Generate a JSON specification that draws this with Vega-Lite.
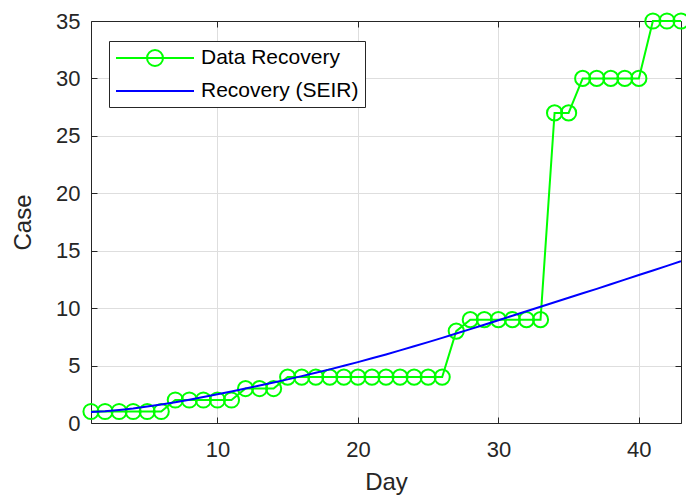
{
  "$schema": "https://vega.github.io/schema/vega-lite/v6.json",
  "width": 590,
  "height": 402,
  "autosize": {"type": "none"},
  "padding": {"left": 91, "top": 21, "right": 5, "bottom": 75},
  "background": "white",
  "config": {
    "font": "Liberation Sans",
    "view": {"stroke": null},
    "axis": {
      "labelFont": "Liberation Sans",
      "titleFont": "Liberation Sans",
      "labelColor": "#262626",
      "titleColor": "#262626",
      "labelFontSize": 22,
      "titleFontSize": 24,
      "titleFontWeight": "normal",
      "domainColor": "#262626",
      "domainWidth": 1,
      "tickColor": "#262626",
      "tickWidth": 1,
      "tickSize": -6,
      "gridColor": "#dedede",
      "gridWidth": 1
    },
    "legend": {
      "orient": "none",
      "legendX": 18,
      "legendY": 20,
      "padding": 6,
      "fillColor": "white",
      "strokeColor": "#262626",
      "labelFontSize": 21,
      "labelFont": "Liberation Sans",
      "labelColor": "#000000",
      "symbolSize": 400,
      "symbolStrokeWidth": 2,
      "symbolOffset": 29,
      "labelOffset": 35,
      "rowPadding": 10
    }
  },
  "datasets": {
    "rec": [
      {"day": 1, "value": 1, "series": "Data Recovery"},
      {"day": 2, "value": 1, "series": "Data Recovery"},
      {"day": 3, "value": 1, "series": "Data Recovery"},
      {"day": 4, "value": 1, "series": "Data Recovery"},
      {"day": 5, "value": 1, "series": "Data Recovery"},
      {"day": 6, "value": 1, "series": "Data Recovery"},
      {"day": 7, "value": 2, "series": "Data Recovery"},
      {"day": 8, "value": 2, "series": "Data Recovery"},
      {"day": 9, "value": 2, "series": "Data Recovery"},
      {"day": 10, "value": 2, "series": "Data Recovery"},
      {"day": 11, "value": 2, "series": "Data Recovery"},
      {"day": 12, "value": 3, "series": "Data Recovery"},
      {"day": 13, "value": 3, "series": "Data Recovery"},
      {"day": 14, "value": 3, "series": "Data Recovery"},
      {"day": 15, "value": 4, "series": "Data Recovery"},
      {"day": 16, "value": 4, "series": "Data Recovery"},
      {"day": 17, "value": 4, "series": "Data Recovery"},
      {"day": 18, "value": 4, "series": "Data Recovery"},
      {"day": 19, "value": 4, "series": "Data Recovery"},
      {"day": 20, "value": 4, "series": "Data Recovery"},
      {"day": 21, "value": 4, "series": "Data Recovery"},
      {"day": 22, "value": 4, "series": "Data Recovery"},
      {"day": 23, "value": 4, "series": "Data Recovery"},
      {"day": 24, "value": 4, "series": "Data Recovery"},
      {"day": 25, "value": 4, "series": "Data Recovery"},
      {"day": 26, "value": 4, "series": "Data Recovery"},
      {"day": 27, "value": 8, "series": "Data Recovery"},
      {"day": 28, "value": 9, "series": "Data Recovery"},
      {"day": 29, "value": 9, "series": "Data Recovery"},
      {"day": 30, "value": 9, "series": "Data Recovery"},
      {"day": 31, "value": 9, "series": "Data Recovery"},
      {"day": 32, "value": 9, "series": "Data Recovery"},
      {"day": 33, "value": 9, "series": "Data Recovery"},
      {"day": 34, "value": 27, "series": "Data Recovery"},
      {"day": 35, "value": 27, "series": "Data Recovery"},
      {"day": 36, "value": 30, "series": "Data Recovery"},
      {"day": 37, "value": 30, "series": "Data Recovery"},
      {"day": 38, "value": 30, "series": "Data Recovery"},
      {"day": 39, "value": 30, "series": "Data Recovery"},
      {"day": 40, "value": 30, "series": "Data Recovery"},
      {"day": 41, "value": 35, "series": "Data Recovery"},
      {"day": 42, "value": 35, "series": "Data Recovery"},
      {"day": 43, "value": 35, "series": "Data Recovery"}
    ],
    "seir": [
      {"day": 1, "value": 0.95, "series": "Recovery (SEIR)"},
      {"day": 2, "value": 1.03, "series": "Recovery (SEIR)"},
      {"day": 3, "value": 1.14, "series": "Recovery (SEIR)"},
      {"day": 4, "value": 1.27, "series": "Recovery (SEIR)"},
      {"day": 5, "value": 1.43, "series": "Recovery (SEIR)"},
      {"day": 6, "value": 1.61, "series": "Recovery (SEIR)"},
      {"day": 7, "value": 1.81, "series": "Recovery (SEIR)"},
      {"day": 8, "value": 2.03, "series": "Recovery (SEIR)"},
      {"day": 9, "value": 2.26, "series": "Recovery (SEIR)"},
      {"day": 10, "value": 2.5, "series": "Recovery (SEIR)"},
      {"day": 11, "value": 2.75, "series": "Recovery (SEIR)"},
      {"day": 12, "value": 3.0, "series": "Recovery (SEIR)"},
      {"day": 13, "value": 3.26, "series": "Recovery (SEIR)"},
      {"day": 14, "value": 3.53, "series": "Recovery (SEIR)"},
      {"day": 15, "value": 3.8, "series": "Recovery (SEIR)"},
      {"day": 16, "value": 4.08, "series": "Recovery (SEIR)"},
      {"day": 17, "value": 4.37, "series": "Recovery (SEIR)"},
      {"day": 18, "value": 4.67, "series": "Recovery (SEIR)"},
      {"day": 19, "value": 4.98, "series": "Recovery (SEIR)"},
      {"day": 20, "value": 5.3, "series": "Recovery (SEIR)"},
      {"day": 21, "value": 5.63, "series": "Recovery (SEIR)"},
      {"day": 22, "value": 5.97, "series": "Recovery (SEIR)"},
      {"day": 23, "value": 6.32, "series": "Recovery (SEIR)"},
      {"day": 24, "value": 6.68, "series": "Recovery (SEIR)"},
      {"day": 25, "value": 7.04, "series": "Recovery (SEIR)"},
      {"day": 26, "value": 7.41, "series": "Recovery (SEIR)"},
      {"day": 27, "value": 7.79, "series": "Recovery (SEIR)"},
      {"day": 28, "value": 8.17, "series": "Recovery (SEIR)"},
      {"day": 29, "value": 8.56, "series": "Recovery (SEIR)"},
      {"day": 30, "value": 8.95, "series": "Recovery (SEIR)"},
      {"day": 31, "value": 9.34, "series": "Recovery (SEIR)"},
      {"day": 32, "value": 9.73, "series": "Recovery (SEIR)"},
      {"day": 33, "value": 10.12, "series": "Recovery (SEIR)"},
      {"day": 34, "value": 10.51, "series": "Recovery (SEIR)"},
      {"day": 35, "value": 10.9, "series": "Recovery (SEIR)"},
      {"day": 36, "value": 11.29, "series": "Recovery (SEIR)"},
      {"day": 37, "value": 11.68, "series": "Recovery (SEIR)"},
      {"day": 38, "value": 12.08, "series": "Recovery (SEIR)"},
      {"day": 39, "value": 12.48, "series": "Recovery (SEIR)"},
      {"day": 40, "value": 12.88, "series": "Recovery (SEIR)"},
      {"day": 41, "value": 13.28, "series": "Recovery (SEIR)"},
      {"day": 42, "value": 13.68, "series": "Recovery (SEIR)"},
      {"day": 43, "value": 14.08, "series": "Recovery (SEIR)"}
    ]
  },
  "resolve": {"axis": {"x": "independent", "y": "independent"}},
  "layer": [
    {
      "data": {"name": "rec"},
      "mark": {"type": "line", "strokeWidth": 2, "clip": false},
      "encoding": {
        "x": {"field": "day", "type": "quantitative",
              "scale": {"domain": [1, 43], "nice": false, "zero": false},
              "axis": {"orient": "bottom", "title": "Day", "values": [10, 20, 30, 40], "grid": true, "labelPadding": 22, "titlePadding": 10, "labelFlush": false}},
        "y": {"field": "value", "type": "quantitative",
              "scale": {"domain": [0, 35], "nice": false},
              "axis": {"orient": "left", "title": "Case", "values": [0, 5, 10, 15, 20, 25, 30, 35], "grid": true, "labelPadding": 17, "titlePadding": 20, "labelFlush": false}},
        "color": {"field": "series", "type": "nominal",
                  "scale": {"domain": ["Data Recovery", "Recovery (SEIR)"], "range": ["#00ff00", "#0000ff"]},
                  "legend": {"title": null,
                             "encode": {"symbols": {"update": {
                               "shape": {"signal": "datum.label === 'Data Recovery' ? 'M-3.9,0H3.9M0.8,0A0.8,0.8,0,1,1,-0.8,0A0.8,0.8,0,1,1,0.8,0' : 'M-3.9,0H3.9'"},
                               "fill": {"value": "transparent"},
                               "strokeWidth": {"value": 2},
                               "size": {"value": 400}}}}}}
      }
    },
    {
      "data": {"name": "rec"},
      "mark": {"type": "point", "shape": "circle", "filled": false, "size": 230, "strokeWidth": 2, "opacity": 1, "clip": false},
      "encoding": {
        "x": {"field": "day", "type": "quantitative", "axis": null},
        "y": {"field": "value", "type": "quantitative", "axis": null},
        "color": {"field": "series", "type": "nominal", "legend": {"title": null}}
      }
    },
    {
      "data": {"name": "seir"},
      "mark": {"type": "line", "strokeWidth": 2, "clip": true},
      "encoding": {
        "x": {"field": "day", "type": "quantitative",
              "axis": {"orient": "top", "title": null, "labels": false, "grid": false, "values": [10, 20, 30, 40]}},
        "y": {"field": "value", "type": "quantitative",
              "axis": {"orient": "right", "title": null, "labels": false, "grid": false, "values": [0, 5, 10, 15, 20, 25, 30, 35]}},
        "color": {"field": "series", "type": "nominal", "legend": {"title": null}}
      }
    }
  ]
}
